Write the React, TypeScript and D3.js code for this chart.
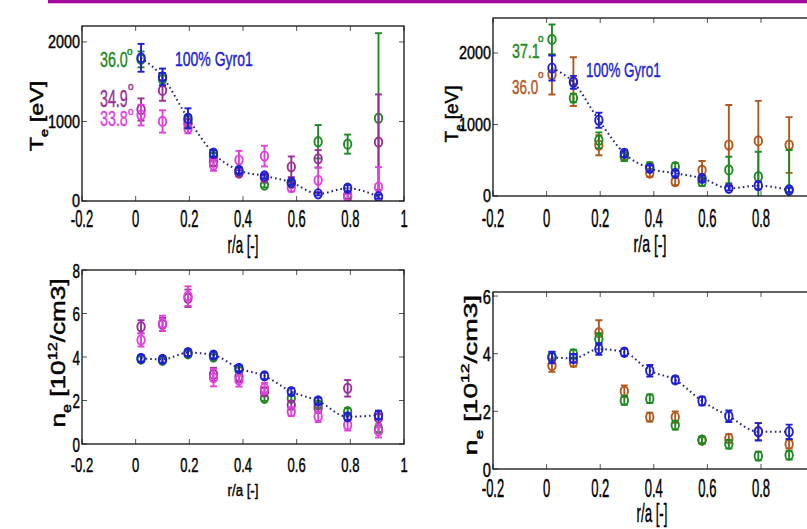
import React from 'react';
import * as d3 from 'd3';

// radial positions shared by all profiles
const R = [0.02, 0.1, 0.195, 0.29, 0.385, 0.48, 0.58, 0.68, 0.79, 0.905];
const X_TICKS = [-0.2, 0, 0.2, 0.4, 0.6, 0.8, 1];
const X_TICK_LABELS = ['-0.2', '0', '0.2', '0.4', '0.6', '0.8', '1'];

// Te, left case (36.0 / 34.9 / 33.8 deg)
const TE_A_GYRO = [1800, 1560, 1040, 600, 385, 315, 235, 90, 160, 55];
const TE_A_GYRO_ERR = [175, 105, 125, 40, 35, 30, 30, 20, 40, 25];
const TE_A_360 = [1780, 1530, 1010, 560, 360, 200, 220, 745, 715, 1040];
const TE_A_360_ERR = [100, 80, 70, 40, 30, 30, 30, 210, 120, 1070];
const TE_A_349 = [1150, 1390, 970, 490, 350, 290, 430, 530, 70, 740];
const TE_A_349_ERR = [140, 130, 60, 50, 40, 40, 130, 110, 40, 600];
const TE_A_338 = [1080, 1000, 910, 450, 515, 565, 170, 260, 50, 175];
const TE_A_338_ERR = [130, 140, 60, 70, 115, 130, 50, 160, 40, 250];

// Te, right case (37.1 / 36.0 deg)
const TE_B_GYRO = [1790, 1590, 1060, 597, 387, 317, 247, 107, 144, 84];
const TE_B_GYRO_ERR = [175, 90, 105, 50, 40, 40, 40, 30, 50, 30];
const TE_B_371 = [2190, 1370, 780, 550, 410, 410, 200, 365, 270, 84];
const TE_B_371_ERR = [210, 60, 110, 60, 60, 50, 60, 185, 350, 560];
const TE_B_360 = [1700, 1600, 710, 560, 320, 200, 360, 713, 770, 713];
const TE_B_360_ERR = [280, 340, 140, 60, 50, 50, 130, 560, 560, 390];

// ne, left case
const NE_A_GYRO = [3.94, 3.89, 4.2, 4.09, 3.48, 3.13, 2.41, 1.98, 1.25, 1.33];
const NE_A_GYRO_ERR = [0.15, 0.15, 0.15, 0.15, 0.15, 0.15, 0.15, 0.15, 0.15, 0.2];
const NE_A_360 = [3.9, 3.85, 4.15, 4.0, 3.4, 2.1, 2.1, 1.8, 1.49, 0.7];
const NE_A_360_ERR = [0.12, 0.12, 0.12, 0.12, 0.12, 0.12, 0.12, 0.12, 0.15, 0.15];
const NE_A_349 = [5.39, 5.5, 6.7, 3.2, 3.1, 2.4, 1.79, 1.64, 2.56, 1.2];
const NE_A_349_ERR = [0.3, 0.3, 0.4, 0.3, 0.25, 0.2, 0.2, 0.2, 0.38, 0.3];
const NE_A_338 = [4.78, 5.55, 6.8, 3.05, 2.94, 2.56, 1.49, 1.26, 0.87, 0.6];
const NE_A_338_ERR = [0.3, 0.35, 0.45, 0.4, 0.3, 0.25, 0.2, 0.25, 0.25, 0.3];

// ne, right case
const NE_B_GYRO = [3.87, 3.84, 4.16, 4.05, 3.41, 3.09, 2.36, 1.83, 1.29, 1.29];
const NE_B_GYRO_ERR = [0.2, 0.15, 0.2, 0.12, 0.2, 0.12, 0.15, 0.2, 0.3, 0.25];
const NE_B_371 = [3.9, 3.99, 4.51, 2.38, 2.44, 1.52, 1.0, 0.86, 0.45, 0.48];
const NE_B_371_ERR = [0.15, 0.15, 0.2, 0.15, 0.15, 0.15, 0.12, 0.15, 0.15, 0.15];
const NE_B_360 = [3.59, 3.7, 4.73, 2.7, 1.8, 1.8, 1.0, 1.06, 1.3, 0.86];
const NE_B_360_ERR = [0.22, 0.15, 0.43, 0.2, 0.15, 0.2, 0.1, 0.15, 0.3, 0.15];

const BLUE = '#1f1fd6';
const NAVY = '#24247c';
const GREEN = '#1f8a22';
const PURPLE = '#9a2f98';
const MAGENTA = '#e23fe0';
const BROWN = '#b2581e';
const FONT = '"Liberation Sans", Arial, sans-serif';
const VIEW_W = 807;

function Txt({ x, y, f, sx = 1, sy = 1, rot = 0, anchor = 'start', fill = '#000', children }: any) {
  return (
    <text
      transform={`translate(${x},${y}) rotate(${rot}) scale(${sx},${sy})`}
      fontSize={f}
      textAnchor={anchor}
      fill={fill}
      stroke={fill}
      strokeWidth={0.45}
      fontFamily={FONT}
    >
      {children}
    </text>
  );
}

function Series({ x, y, vals, errs, color }: any) {
  return (
    <g stroke={color} fill="none" strokeWidth={1.9}>
      {vals.map((v: number, i: number) => {
        const cx = x(R[i]);
        const y0 = y(v - errs[i]);
        const y1 = y(v + errs[i]);
        return (
          <g key={i}>
            <line x1={cx} x2={cx} y1={y0} y2={y1} />
            <line x1={cx - 3.5} x2={cx + 3.5} y1={y0} y2={y0} />
            <line x1={cx - 3.5} x2={cx + 3.5} y1={y1} y2={y1} />
            <ellipse cx={cx} cy={y(v)} rx={3.7} ry={4.7} />
          </g>
        );
      })}
    </g>
  );
}

function Panel({ p, id }: any) {
  const x = d3.scaleLinear().domain([-0.2, 1]).range([p.left, p.right]);
  const y = d3.scaleLinear().domain([0, p.yMax]).range([p.bottom, p.top]);
  const fit = d3
    .line<number>()
    .x((_, i) => x(R[i]))
    .y((d) => y(d))
    .curve(d3.curveMonotoneX);
  const tk = 5;
  const clip = `clip-${id}`;
  return (
    <g>
      <clipPath id={clip}>
        <rect x={p.left} y={p.top} width={p.right - p.left} height={p.bottom - p.top} />
      </clipPath>
      <g clipPath={`url(#${clip})`}>
        {p.series.map((s: any, i: number) => (
          <Series key={i} x={x} y={y} vals={s.vals} errs={s.errs} color={s.color} />
        ))}
        <path d={fit(p.fit) || ''} fill="none" stroke={NAVY} strokeWidth={2} strokeDasharray="1.6,3" />
      </g>
      <g stroke="#555" strokeWidth={1}>
        {X_TICKS.map((t) => (
          <g key={t}>
            <line x1={x(t)} x2={x(t)} y1={p.bottom} y2={p.bottom - tk} />
            <line x1={x(t)} x2={x(t)} y1={p.top} y2={p.top + tk} />
          </g>
        ))}
        {p.yTicks.map((t: number) => (
          <g key={t}>
            <line x1={p.left} x2={p.left + tk} y1={y(t)} y2={y(t)} />
            <line x1={p.right} x2={p.right - tk} y1={y(t)} y2={y(t)} />
          </g>
        ))}
      </g>
      <rect
        x={p.left}
        y={p.top}
        width={p.right - p.left}
        height={p.bottom - p.top}
        fill="none"
        stroke="#111"
        strokeWidth={1.3}
      />
      {X_TICKS.filter((t) => x(t) < VIEW_W - 4).map((t) => (
        <Txt key={t} x={x(t)} y={p.xTick.base} f={p.xTick.f} sx={p.xTick.sx} anchor="middle">
          {X_TICK_LABELS[X_TICKS.indexOf(t)]}
        </Txt>
      ))}
      {p.yTicks.map((t: number) => (
        <Txt
          key={t}
          x={p.left - 2}
          y={y(t) + (p.yTick.f * 0.716) / 2}
          f={p.yTick.f}
          sx={p.yTick.sx}
          anchor="end"
        >
          {String(t)}
        </Txt>
      ))}
      <Txt x={p.xTitle.x} y={p.xTitle.y} f={p.xTitle.f} sx={p.xTitle.sx} anchor="middle">
        r/a [-]
      </Txt>
      <Txt x={p.yTitle.x} y={p.yTitle.y} f={p.yTitle.f} sx={p.yTitle.s} rot={-90} anchor="middle">
        {p.kind === 'te' ? (
          <>
            <tspan>T</tspan>
            <tspan fontSize={p.yTitle.f * 0.62} dy={p.yTitle.f * 0.3}>e</tspan>
            <tspan dy={-p.yTitle.f * 0.3}> [eV]</tspan>
          </>
        ) : (
          <>
            <tspan>n</tspan>
            <tspan fontSize={p.yTitle.f * 0.62} dy={p.yTitle.f * 0.3}>e</tspan>
            <tspan dy={-p.yTitle.f * 0.3}> [10</tspan>
            <tspan fontSize={p.yTitle.f * 0.62} dy={-p.yTitle.f * 0.42}>12</tspan>
            <tspan dy={p.yTitle.f * 0.42}>/cm3]</tspan>
          </>
        )}
      </Txt>
      {(p.labels || []).map((l: any, i: number) => (
        <g key={i}>
          <Txt x={l.x} y={l.y} f={l.f} sx={l.sx} fill={l.color}>
            {l.text}
          </Txt>
          {l.deg && (
            <Txt x={l.deg[0]} y={l.deg[1]} f={10} fill={l.color}>
              o
            </Txt>
          )}
        </g>
      ))}
    </g>
  );
}

const panels = [
  {
    kind: 'te',
    left: 82, right: 404, top: 26, bottom: 201, yMax: 2200,
    yTicks: [0, 1000, 2000],
    xTick: { base: 227, f: 24, sx: 0.54 },
    yTick: { f: 18, sx: 0.8 },
    xTitle: { x: 243, y: 253, f: 24.5, sx: 0.54 },
    yTitle: { x: 43, y: 116, f: 18, s: 1.3 },
    fit: TE_A_GYRO,
    series: [
      { vals: TE_A_360, errs: TE_A_360_ERR, color: GREEN },
      { vals: TE_A_349, errs: TE_A_349_ERR, color: PURPLE },
      { vals: TE_A_338, errs: TE_A_338_ERR, color: MAGENTA },
      { vals: TE_A_GYRO, errs: TE_A_GYRO_ERR, color: BLUE },
    ],
    labels: [
      { text: '36.0', x: 100, y: 67, f: 22, sx: 0.65, color: GREEN, deg: [127, 55] },
      { text: '34.9', x: 100, y: 107, f: 23, sx: 0.62, color: PURPLE, deg: [128, 90] },
      { text: '33.8', x: 100, y: 126, f: 22, sx: 0.65, color: MAGENTA, deg: [128, 115] },
      { text: '100% Gyro1', x: 175, y: 66, f: 20, sx: 0.7, color: BLUE },
    ],
  },
  {
    kind: 'te',
    left: 493, right: 814.6, top: 18, bottom: 196, yMax: 2490,
    yTicks: [0, 1000, 2000],
    xTick: { base: 227, f: 25, sx: 0.52 },
    yTick: { f: 18, sx: 0.8 },
    xTitle: { x: 650, y: 252, f: 23.5, sx: 0.6 },
    yTitle: { x: 458, y: 114, f: 18, s: 1.05 },
    fit: TE_B_GYRO,
    series: [
      { vals: TE_B_360, errs: TE_B_360_ERR, color: BROWN },
      { vals: TE_B_371, errs: TE_B_371_ERR, color: GREEN },
      { vals: TE_B_GYRO, errs: TE_B_GYRO_ERR, color: BLUE },
    ],
    labels: [
      { text: '37.1', x: 512, y: 58, f: 21, sx: 0.68, color: GREEN, deg: [538, 42] },
      { text: '36.0', x: 512, y: 94, f: 21, sx: 0.64, color: BROWN, deg: [538, 78] },
      { text: '100% Gyro1', x: 586, y: 77, f: 21, sx: 0.64, color: BLUE },
    ],
  },
  {
    kind: 'ne',
    left: 82, right: 404, top: 270, bottom: 444, yMax: 8,
    yTicks: [0, 2, 4, 6, 8],
    xTick: { base: 472, f: 21, sx: 0.62 },
    yTick: { f: 21, sx: 0.64 },
    xTitle: { x: 243, y: 496, f: 17, sx: 0.78 },
    yTitle: { x: 65, y: 353, f: 19.5, s: 1.34 },
    fit: NE_A_GYRO,
    series: [
      { vals: NE_A_360, errs: NE_A_360_ERR, color: GREEN },
      { vals: NE_A_349, errs: NE_A_349_ERR, color: PURPLE },
      { vals: NE_A_338, errs: NE_A_338_ERR, color: MAGENTA },
      { vals: NE_A_GYRO, errs: NE_A_GYRO_ERR, color: BLUE },
    ],
  },
  {
    kind: 'ne',
    left: 493, right: 814.6, top: 292, bottom: 469, yMax: 6.14,
    yTicks: [0, 2, 4, 6],
    xTick: { base: 497, f: 25, sx: 0.52 },
    yTick: { f: 21, sx: 0.7 },
    xTitle: { x: 652, y: 522, f: 25, sx: 0.53 },
    yTitle: { x: 477, y: 375, f: 19, s: 1.48 },
    fit: NE_B_GYRO,
    series: [
      { vals: NE_B_360, errs: NE_B_360_ERR, color: BROWN },
      { vals: NE_B_371, errs: NE_B_371_ERR, color: GREEN },
      { vals: NE_B_GYRO, errs: NE_B_GYRO_ERR, color: BLUE },
    ],
  },
];

export default function App() {
  return (
    <svg
      width={807}
      height={529}
      style={{ position: 'absolute', left: 0, top: 0, background: '#fff' }}
    >
      <rect x={0} y={0} width={807} height={529} fill="#fff" />
      <rect x={48} y={0} width={759} height={3.3} fill="#a3089e" />
      {panels.map((p, i) => (
        <Panel key={i} p={p} id={i} />
      ))}
    </svg>
  );
}
